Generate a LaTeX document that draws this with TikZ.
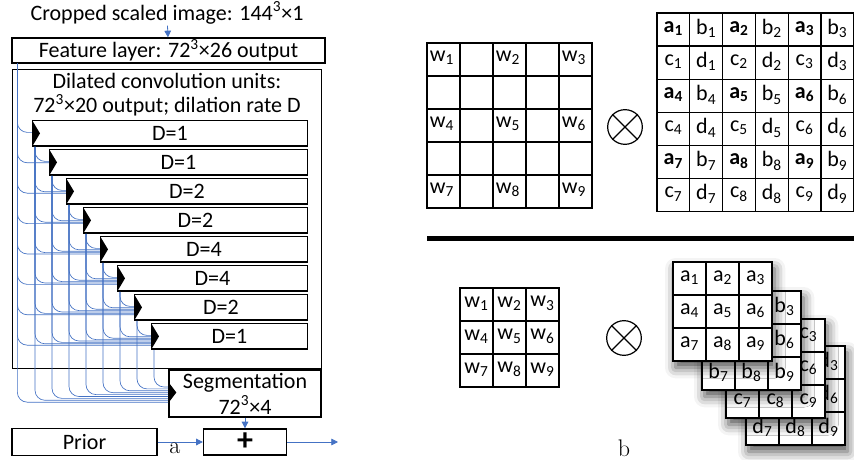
\documentclass[tikz,border=0pt]{standalone}
\usepackage{fontspec}
\setsansfont{Carlito}
\usetikzlibrary{calc,arrows.meta,shadows.blur}
\definecolor{linkblue}{RGB}{68,114,196}
\tikzset{
  box/.style={draw, line width=1pt, inner sep=0pt, fill=white},
  unit/.style={box, minimum height=19.1pt},
  skip/.style={linkblue, line width=0.5pt, rounded corners=7.5pt},
  flow/.style={linkblue, line width=0.6pt, -{Triangle[length=5pt,width=5pt]}},
  cellgrid/.style={line width=0.9pt},
  caption/.style={font=\rmfamily\fontsize{18}{18}\selectfont},
}
\newcommand{\cl}[2]{#1\textsubscript{#2}}

\begin{document}
\begin{tikzpicture}[x=0.75pt,y=-0.75pt,font=\sffamily\fontsize{16.5}{18}\selectfont]
  \useasboundingbox (0,0) rectangle (854,460);

  % 网络部分 (a)
  \node[inner sep=1pt] (crop) at (167,13) {Cropped scaled image: 144\textsuperscript{3}×1};
  \node[box, minimum width=234.75pt, minimum height=18.75pt] (feat) at (168.5,50.5) {Feature layer: 72\textsuperscript{3}×26 output};
  \draw[flow] (crop) -- (feat);

  \node[box, minimum width=231.75pt, minimum height=224.25pt, anchor=north west] (dil) at (12,69) {};
  \node[align=center] (diltxt) at (167,95) {Dilated convolution units:\\72\textsuperscript{3}×20 output; dilation rate D};

  \foreach \k/\dv in {1/1,2/1,3/2,4/2,5/4,6/4,7/2,8/1} {
    \pgfmathsetmacro\boxw{(291.5-17*\k)*0.75}
    \node[unit, minimum width=\boxw pt, anchor=north west] (d\k) at ({15+17*\k},{91+29*\k}) {D=\dv};
  }

  \node[box, minimum width=114pt, minimum height=35.25pt, align=center, font=\sffamily\fontsize{16.5}{19.5}\selectfont] (seg) at (245,393.5) {Segmentation\\72\textsuperscript{3}×4};
  \node[box, minimum width=108.75pt, minimum height=20pt] (prior) at (84.5,442) {Prior};
  \node[box, minimum width=62.25pt, minimum height=19.5pt] (plus) at (245,442) {};
  \node (plussign) at (plus) {\fontsize{24}{24}\selectfont\bfseries +};
  \coordinate (out) at (338,442);

  % 跳跃连接
  \foreach \k in {1,...,9} {
    \pgfmathtruncatemacro\km{\k-1}
    \foreach \j in {0,...,\km} {
      \ifnum\j=0 \coordinate (src) at ($(feat.south west)+(6,0)$);
      \else \coordinate (src) at ($(d\j.south west)+(3,0)$); \fi
      \ifnum\k=9
        \pgfmathsetmacro\off{(8-\j)*1.9-6.5}
        \coordinate (dst) at ($(seg.west)+(0,\off)$);
      \else
        \pgfmathsetmacro\off{(\k-1-\j)*1.4-1}
        \coordinate (dst) at ($(d\k.west)+(0,\off)$);
      \fi
      \draw[skip] (src) |- (dst);
    }
  }
  \foreach \k in {1,...,8}
    \fill (d\k.north west) -- ($(d\k.west)+(8,0)$) -- (d\k.south west) -- cycle;
  \fill ($(seg.west)+(0,-11.5)$) -- ($(seg.west)+(8,-1)$) -- ($(seg.west)+(0,9.5)$) -- cycle;

  \draw[flow] (seg) -- (plus);
  \draw[flow] (prior) -- (plus);
  \draw[flow] (plus) -- (out);
  \node[caption] (lbla) at (175,448) {a};

  % 空洞卷积 (b) 上
  \draw[cellgrid] (427,43) rectangle (592,208);
  \foreach \i in {1,...,4} {
    \draw[cellgrid] ({427+33*\i},43) -- ++(0,165);
    \draw[cellgrid] (427,{43+33*\i}) -- ++(165,0);
  }
  \foreach \r in {0,1,2}
    \foreach \c in {0,1,2} {
      \pgfmathtruncatemacro\n{3*\r+\c+1}
      \node (w\n) at ({442+66*\c},{58+66*\r}) {\cl{w}{\n}};
    }
  \node[circle, draw, line width=0.9pt, minimum size=26pt, inner sep=0pt] (mul1) at (625,127) {};
  \draw[line width=0.9pt] (mul1.45) -- (mul1.225) (mul1.135) -- (mul1.315);

  \draw[cellgrid] (657,13) rectangle (853.8,211.6);
  \foreach \i in {1,...,5} {
    \draw[cellgrid] ({657+32.8*\i},13) -- ++(0,198.6);
    \draw[cellgrid] (657,{13+33.1*\i}) -- ++(196.8,0);
  }
  \foreach \r in {0,...,5}
    \foreach \c in {0,...,5} {
      \pgfmathtruncatemacro\n{3*int(\r/2)+int(\c/2)+1}
      \pgfmathtruncatemacro\rr{mod(\r,2)}
      \pgfmathtruncatemacro\cc{mod(\c,2)}
      \ifnum\rr=0
        \ifnum\cc=0 \def\celltxt{\textbf{\cl{a}{\n}}}\else\def\celltxt{\cl{b}{\n}}\fi
      \else
        \ifnum\cc=0 \def\celltxt{\cl{c}{\n}}\else\def\celltxt{\cl{d}{\n}}\fi
      \fi
      \node (x\r\c) at ({673.4+32.8*\c},{28.5+33.1*\r}) {\celltxt};
    }

  % 分隔线
  \draw[line width=3.75pt] (427,238) -- (854,238);

  % 下: 分组卷积
  \draw[cellgrid] (460,288) rectangle (559,387);
  \foreach \i in {1,2} {
    \draw[cellgrid] ({460+33*\i},288) -- ++(0,99);
    \draw[cellgrid] (460,{288+33*\i}) -- ++(99,0);
  }
  \foreach \r in {0,1,2}
    \foreach \c in {0,1,2} {
      \pgfmathtruncatemacro\n{3*\r+\c+1}
      \node (v\n) at ({476.5+33*\c},{303.5+33*\r}) {\cl{w}{\n}};
    }
  \node[circle, draw, line width=0.9pt, minimum size=26pt, inner sep=0pt] (mul2) at (624,338) {};
  \draw[line width=0.9pt] (mul2.45) -- (mul2.225) (mul2.135) -- (mul2.315);

  \foreach \g/\gx/\gy in {d/746/346, c/726/319, b/702/291, a/673/262} {
    \path[fill=white, blur shadow={shadow xshift=2pt, shadow yshift=-5pt, shadow blur radius=8pt, shadow opacity=70}] (\gx,\gy) rectangle ++(99,99);
    \draw[cellgrid] (\gx,\gy) rectangle ++(99,99);
    \foreach \i in {1,2} {
      \draw[cellgrid] ({\gx+33*\i},\gy) -- ++(0,99);
      \draw[cellgrid] (\gx,{\gy+33*\i}) -- ++(99,0);
    }
    \foreach \r in {0,1,2}
      \foreach \c in {0,1,2} {
        \pgfmathtruncatemacro\n{3*\r+\c+1}
        \node (\g\n) at ({\gx+16.5+33*\c},{\gy+15.5+33*\r}) {\cl{\g}{\n}};
      }
  }
  \node[caption] (lblb) at (624,448) {b};
\end{tikzpicture}
\end{document}
